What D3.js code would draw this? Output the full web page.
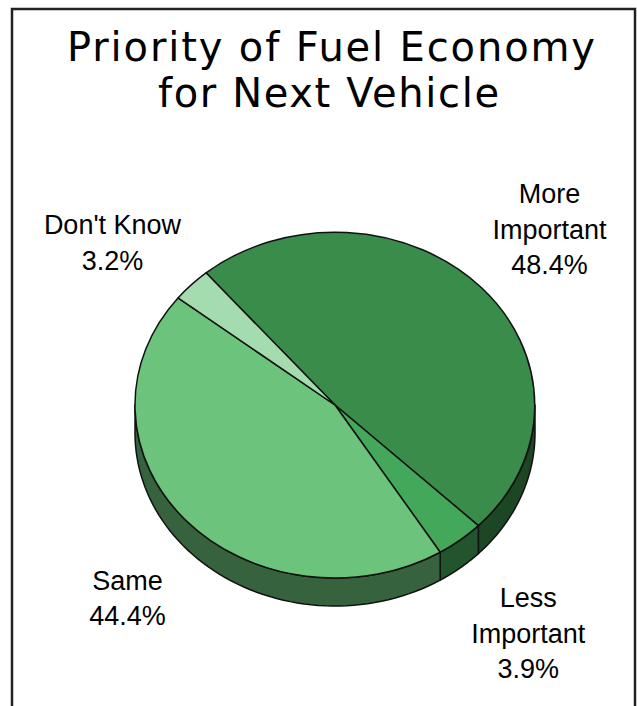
<!DOCTYPE html>
<html>
<head>
<meta charset="utf-8">
<script src="https://cdn.jsdelivr.net/npm/d3@7"></script>
<style>
  html, body { margin: 0; padding: 0; background: #ffffff; }
  svg { display: block; }
</style>
</head>
<body>
<svg id="chart" width="637" height="706"></svg>
<script>
// ---- data ----
const titleLines = ["Priority of Fuel Economy", "for Next Vehicle"];
const categories = ["More Important", "Less Important", "Same", "Don't Know"];
const labelLines = [["More", "Important"], ["Less", "Important"], ["Same"], ["Don't Know"]];
const values = [48.4, 3.9, 44.4, 3.2];
const colors = ["#3a8c4a", "#43a85a", "#6bc37c", "#a4dcb0"];

// ---- layout ----
const W = 637, H = 706;
const cx = 335, cy = 405, rx = 200, ry = 173, depth = 28;
const startDeg = -40.2;
const labelPos = [
  { x: 549.5, y: 203 },
  { x: 528.3, y: 607 },
  { x: 127.5, y: 589.5 },
  { x: 112.5, y: 234.3 }
];
const lineGap = 35.5;

const svg = d3.select("#chart");
svg.append("rect").attr("width", W).attr("height", H).attr("fill", "#ffffff");

// border frame
svg.append("rect")
  .attr("x", 12).attr("y", 9).attr("width", 623).attr("height", 720)
  .attr("fill", "none").attr("stroke", "#222").attr("stroke-width", 2.5);

// title
const titleFont = "'DejaVu Sans', Verdana, sans-serif";
const titleG = svg.append("g");
titleLines.forEach((t, i) => {
  titleG.append("text")
    .attr("x", i === 0 ? 331 : 328.5)
    .attr("y", i === 0 ? 61 : 107)
    .attr("text-anchor", "middle")
    .attr("font-family", titleFont)
    .attr("font-size", 40)
    .attr("textLength", i === 0 ? 528 : 341)
    .attr("lengthAdjust", "spacing")
    .attr("fill", "#000")
    .text(t);
});

// pie
const s0 = startDeg * Math.PI / 180;
const pie = d3.pie().sort(null).value(d => d).startAngle(s0).endAngle(s0 + 2 * Math.PI);
const arcs = pie(values);

const darken = c => { const r = d3.rgb(c); return d3.rgb(r.r * 0.5, r.g * 0.5, r.b * 0.5).formatHex(); };
const ex = a => cx + rx * Math.sin(a);
const ey = a => cy - ry * Math.cos(a);

// side walls (front half only: angles PI/2 .. 3PI/2)
const sideG = svg.append("g");
arcs.forEach((d, i) => {
  const a0 = Math.max(d.startAngle, Math.PI / 2);
  const a1 = Math.min(d.endAngle, 3 * Math.PI / 2);
  if (a1 <= a0) return;
  const n = 60;
  const angs = d3.range(n + 1).map(k => a0 + (a1 - a0) * k / n);
  const pts = angs.map(a => [ex(a), ey(a)])
    .concat(angs.slice().reverse().map(a => [ex(a), ey(a) + depth]));
  sideG.append("path")
    .attr("d", d3.line()(pts) + "Z")
    .attr("fill", darken(colors[i]))
    .attr("stroke", "#111")
    .attr("stroke-width", 1.5)
    .attr("stroke-linejoin", "round");
});

// top faces
const arc = d3.arc().innerRadius(0).outerRadius(1);
const topG = svg.append("g").attr("transform", `translate(${cx},${cy}) scale(${rx},${ry})`);
topG.selectAll("path").data(arcs).join("path")
  .attr("d", arc)
  .attr("fill", (d, i) => colors[i])
  .attr("stroke", "#111")
  .attr("stroke-width", 1.5)
  .attr("stroke-linejoin", "round")
  .attr("vector-effect", "non-scaling-stroke");

// labels
const fmt = d3.format(".1f");
const labG = svg.append("g")
  .attr("font-family", "'Liberation Sans', Arial, sans-serif")
  .attr("font-size", 27)
  .attr("fill", "#000")
  .attr("text-anchor", "middle");
arcs.forEach((d, i) => {
  const lines = labelLines[i].concat([fmt(values[i]) + "%"]);
  const t = labG.append("text").attr("x", labelPos[i].x).attr("y", labelPos[i].y);
  lines.forEach((ln, j) => {
    t.append("tspan").attr("x", labelPos[i].x).attr("y", labelPos[i].y + j * lineGap).text(ln);
  });
});
</script>
</body>
</html>
